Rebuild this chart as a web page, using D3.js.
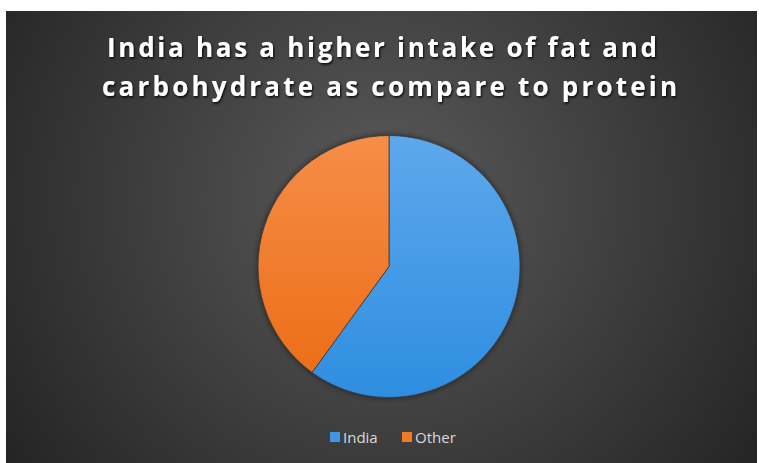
<!DOCTYPE html>
<html><head><meta charset="utf-8">
<script src="https://cdn.jsdelivr.net/npm/d3@7"></script>
<style>html,body{margin:0;padding:0;background:#fff;}svg{display:block;}</style>
</head><body>
<script>
const categories = ["India", "Other"];
const values = [60, 40];
const titleLines = ["India has a higher intake of fat and", "carbohydrate as compare to protein"];

const W = 759, H = 463;
const svg = d3.select("body").append("svg").attr("width", W).attr("height", H);
const defs = svg.append("defs");

const bg = defs.append("radialGradient").attr("id", "bg")
  .attr("gradientUnits", "userSpaceOnUse")
  .attr("cx", 385).attr("cy", 200).attr("r", 460);
bg.append("stop").attr("offset", "0%").attr("stop-color", "#5a5a5a");
bg.append("stop").attr("offset", "100%").attr("stop-color", "#242424");

const gradColors = {
  India: ["#5ea8ec", "#2e8de0"],
  Other: ["#f68d48", "#ec6b12"]
};
categories.forEach(c => {
  const g = defs.append("linearGradient").attr("id", "g-" + c)
    .attr("gradientUnits", "userSpaceOnUse")
    .attr("x1", 0).attr("y1", -131).attr("x2", 0).attr("y2", 131);
  g.append("stop").attr("offset", "0%").attr("stop-color", gradColors[c][0]);
  g.append("stop").attr("offset", "100%").attr("stop-color", gradColors[c][1]);
});

const sh = defs.append("filter").attr("id", "shadow").attr("x", "-20%").attr("y", "-20%").attr("width", "140%").attr("height", "140%");
sh.append("feDropShadow").attr("dx", 0).attr("dy", 0).attr("stdDeviation", 3)
  .attr("flood-color", "#000").attr("flood-opacity", 0.6);

const tsh = defs.append("filter").attr("id", "tshadow").attr("x", "-5%").attr("y", "-20%").attr("width", "110%").attr("height", "140%");
tsh.append("feDropShadow").attr("dx", 1).attr("dy", 1.5).attr("stdDeviation", 1.2)
  .attr("flood-color", "#000").attr("flood-opacity", 0.9);

svg.append("rect").attr("x", 6).attr("y", 11).attr("width", 751).attr("height", 452)
  .attr("fill", "url(#bg)");

// Title
const title = svg.append("g").attr("filter", "url(#tshadow)");
const titleY = [57, 96];
const titleX = [107, 102];
const titleLen = [550, 575];
titleLines.forEach((t, i) => {
  title.append("text")
    .attr("x", titleX[i]).attr("y", titleY[i])
    .attr("textLength", titleLen[i]).attr("lengthAdjust", "spacing")
    .attr("font-family", "'Open Sans', sans-serif").attr("font-weight", 700)
    .attr("font-size", 26).attr("fill", "#ffffff")
    .text(t);
});

// Pie
const cx = 389, cy = 266.5, R = 131;
const color = d3.scaleOrdinal().domain(categories).range(categories.map(c => "url(#g-" + c + ")"));
const pie = d3.pie().sort(null).value(d => d.value);
const arc = d3.arc().innerRadius(0).outerRadius(R);
const data = categories.map((c, i) => ({ name: c, value: values[i] }));

const pg = svg.append("g").attr("transform", `translate(${cx},${cy})`);
pg.append("circle").attr("r", R).attr("fill", "#333").attr("filter", "url(#shadow)");
pg.selectAll("path").data(pie(data)).join("path")
  .attr("d", arc)
  .attr("fill", d => color(d.data.name))
  .attr("stroke", "#3a3a3a").attr("stroke-width", 0.8);

// Legend
const legend = svg.append("g");
const legX = [330, 402];
categories.forEach((c, i) => {
  legend.append("rect").attr("x", legX[i]).attr("y", 432).attr("width", 10).attr("height", 10)
    .attr("fill", c === "India" ? "#3d97e6" : "#f07a25");
  legend.append("text").attr("x", legX[i] + 13).attr("y", 443)
    .attr("font-family", "'Open Sans', sans-serif").attr("font-size", 15)
    .attr("fill", "#d9d9d9").text(c);
});
</script>
</body></html>
